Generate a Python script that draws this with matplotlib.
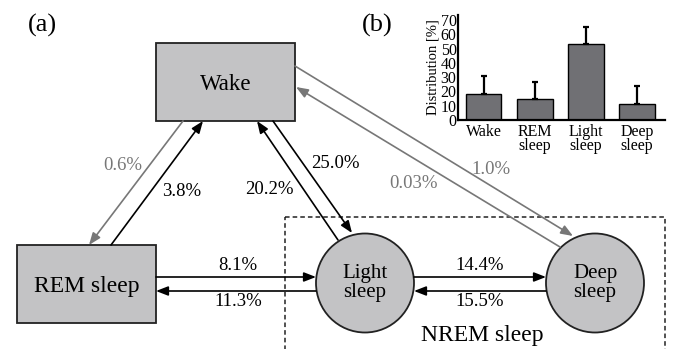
import matplotlib
matplotlib.use('Agg')
from matplotlib import pyplot as plt
from matplotlib.patches import Rectangle, Ellipse, FancyArrowPatch

SERIF = 'Liberation Serif'

# Transition probabilities between sleep stages (%)
transitions = ['Wake->REM', 'REM->Wake', 'Light->Wake', 'Wake->Light',
               'Wake->Deep', 'Deep->Wake', 'REM->Light', 'Light->REM',
               'Light->Deep', 'Deep->Light']
trans_pct = [0.6, 3.8, 20.2, 25.0, 1.0, 0.03, 8.1, 11.3, 14.4, 15.5]

# Stage distribution (%) for panel (b)
stages = ['Wake', 'REM\nsleep', 'Light\nsleep', 'Deep\nsleep']
dist_mean = [18.5, 14.5, 53.0, 11.5]
dist_sd = [12.0, 12.0, 12.0, 12.5]

fig = plt.figure(figsize=(6.75, 3.49), dpi=100)
ax = fig.add_axes([0, 0, 1, 1])
ax.set_xlim(0, 675)
ax.set_ylim(349, 0)
ax.axis('off')

box_fc = '#c3c3c5'
gray = '#777777'

# nodes
ax.add_patch(Rectangle((156, 43), 139, 78, fc=box_fc, ec='#222222', lw=1.3))
ax.text(226, 90, 'Wake', ha='center', va='baseline', fontsize=16.5, family=SERIF)
ax.add_patch(Rectangle((17, 245), 139, 78, fc=box_fc, ec='#222222', lw=1.3))
ax.text(86.5, 292, 'REM sleep', ha='center', va='baseline', fontsize=17, family=SERIF)
ax.add_patch(Ellipse((365, 283), 98, 99, fc=box_fc, ec='#222222', lw=1.3))
ax.text(365, 283, 'Light\nsleep', ha='center', va='center', fontsize=15,
        linespacing=0.95, family=SERIF)
ax.add_patch(Ellipse((595, 283), 98, 99, fc=box_fc, ec='#222222', lw=1.3))
ax.text(595, 283, 'Deep\nsleep', ha='center', va='center', fontsize=15,
        linespacing=0.95, family=SERIF)

# NREM group
ax.add_patch(Rectangle((285, 217), 380, 160, fill=False, ec='#222222',
                       lw=1.1, ls=(0, (3, 2))))
ax.text(482, 341, 'NREM sleep', ha='center', va='baseline', fontsize=17, family=SERIF)

# arrows: start, end, colour, label position
arrow_geom = {
    'Wake->REM': ((183, 121), (89, 245), gray, (123, 165)),
    'REM->Wake': ((111, 245), (203, 121), 'black', (182, 192)),
    'Light->Wake': ((338, 240), (257, 121), 'black', (269, 190)),
    'Wake->Light': ((273, 121), (352, 233), 'black', (335, 163)),
    'Wake->Deep': ((295, 66), (573, 236), gray, (491, 169)),
    'Deep->Wake': ((560, 247), (296, 87), gray, (413, 183)),
    'REM->Light': ((156, 277), (316, 277), 'black', (238, 266)),
    'Light->REM': ((316, 291), (156, 291), 'black', (238, 302)),
    'Light->Deep': ((414, 277), (546, 277), 'black', (480, 266)),
    'Deep->Light': ((546, 291), (414, 291), 'black', (480, 302)),
}

for name, pct in zip(transitions, trans_pct):
    start, end, col, lpos = arrow_geom[name]
    arr = FancyArrowPatch(start, end, arrowstyle='-|>,head_length=0.9,head_width=0.35',
                          mutation_scale=8, color=col, lw=1.2,
                          shrinkA=0, shrinkB=0)
    ax.add_patch(arr)
    txt = f'{pct:.2f}%' if pct < 0.1 else f'{pct:.1f}%'
    ax.text(lpos[0], lpos[1], txt, ha='center', va='center', fontsize=13.5,
            color=col, family=SERIF)

ax.text(42, 25, '(a)', ha='center', va='center', fontsize=19, family=SERIF)
ax.text(377, 25, '(b)', ha='center', va='center', fontsize=19, family=SERIF)

# inset bar chart
bx = fig.add_axes([458 / 675, 1 - 120 / 349, 207 / 675, 105 / 349])
pos = range(len(stages))
bx.bar(pos, dist_mean, width=0.7, color='#707074', edgecolor='black', lw=1)
bx.errorbar(pos, dist_mean, yerr=[[0] * len(dist_sd), dist_sd], fmt='none',
            ecolor='black', elinewidth=1.6, capsize=2, capthick=1.6)
bx.set_xlim(-0.5, 3.55)
bx.set_ylim(0, 73.5)
bx.set_yticks(range(0, 71, 10))
bx.set_yticklabels([str(v) for v in range(0, 71, 10)], family=SERIF, fontsize=11.5)
bx.set_xticks(list(pos))
bx.set_xticklabels(stages, linespacing=0.85, family=SERIF, fontsize=11.5)
bx.tick_params(axis='y', length=0, pad=1)
bx.tick_params(axis='x', length=0, pad=3)
bx.set_ylabel('Distribution [%]', fontsize=10.5, labelpad=1, family=SERIF)
bx.patch.set_alpha(0)
for s in ['top', 'right']:
    bx.spines[s].set_visible(False)
for s in ['left', 'bottom']:
    bx.spines[s].set_linewidth(1.6)

fig.savefig('out.png', dpi=100)
